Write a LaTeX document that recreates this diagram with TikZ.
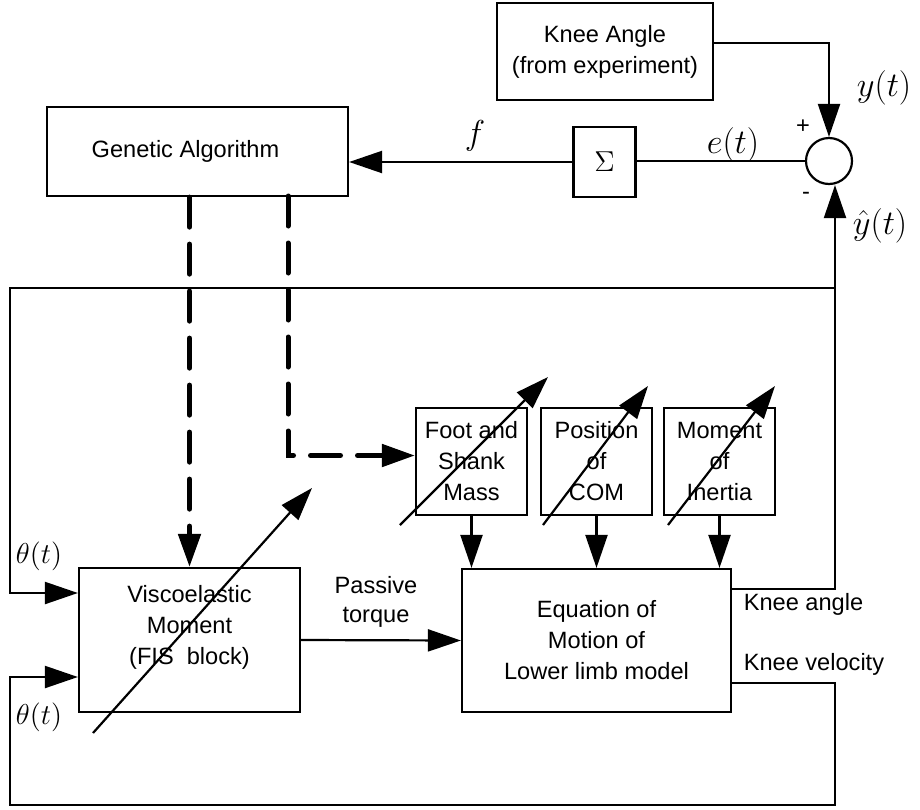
\documentclass[tikz,border=0pt]{standalone}
\usepackage{fontspec}
\setmainfont{Liberation Sans}
\usetikzlibrary{arrows.meta}

\begin{document}
\begin{tikzpicture}[x=0.5pt,y=-0.5pt,line width=1.1pt,
  >={Triangle[length=16.5pt,width=11pt]},
  block/.style={draw,rectangle,align=center,inner sep=0pt,font=\fontsize{11.8}{15.5}\selectfont},
  parbox/.style={block,minimum width=55.5pt,minimum height=53.5pt},
  gadash/.style={line width=2.5pt,dash pattern=on 15pt off 8.5pt,line cap=round},
  lbl/.style={font=\fontsize{11.8}{14.5}\selectfont},
  mlbl/.style={font=\fontsize{18.5}{20}\selectfont}]
\useasboundingbox (0,0) rectangle (920,809);

\node[block,minimum width=108pt,minimum height=48.5pt] (knee) at (605,51.5) {Knee Angle\\(from experiment)};
\node[block,minimum width=150.5pt,minimum height=44.5pt] (ga) at (197.5,151.5) {Genetic Algorithm\hspace*{12pt}};
\node[block,minimum width=31pt,minimum height=35pt] (sigma) at (604.5,162) {\Large$\Sigma$};
\node[circle,draw,minimum size=23pt,inner sep=0pt] (sum) at (829,161) {};
\node[block,minimum width=110.5pt,minimum height=72pt] (visco) at (189.5,640) {Viscoelastic\\Moment\\(FIS\ \ block)\\\mbox{}};
\node[block,minimum width=134.5pt,minimum height=71.5pt] (eq) at (596.5,640.5) {Equation of\\Motion of\\Lower limb model};
\node[parbox] (foot) at (471.5,461.5) {Foot and\\Shank\\Mass};
\node[parbox] (pos) at (596.5,461.5) {Position\\of\\COM};
\node[parbox] (mom) at (719.5,461.5) {Moment\\of\\Inertia};

% adjustable blocks
\draw[->] (93,733) -- (312,488);
\draw[->] (400,525) -- (548,377);
\draw[->] (543,525) -- (648,386);
\draw[->] (668,525) -- (775,386);

% error path
\draw[->] ([yshift=4.25pt]knee.east) -| (sum.north);
\draw (sum.west) -- (sum.west -| sigma.east);
\draw[->] (sigma.west) -- (sigma.west -| ga.east);

% GA tuning
\coordinate (gb) at (288,196);
\draw[gadash,->] (visco.north |- ga.south) -- (visco.north);
\draw[gadash,->] (gb) |- ([yshift=3pt]foot.west);

% feedback
\coordinate (fbtop) at (835,288);
\coordinate (fbl) at (10,288);
\coordinate (br) at (835,805);
\coordinate (bl) at (10,805);
\draw[->] ([yshift=25.75pt]eq.east) -| ([xshift=3pt]sum.south);
\draw[->] (fbtop) -- (fbl) |- ([yshift=23.5pt]visco.west);
\draw[->] ([yshift=-21.25pt]eq.east) -| (br) -- (bl) |- ([yshift=-18.5pt]visco.west);

\draw[->] (visco.east) -- (eq.west);
\foreach \p in {foot,pos,mom}
  \draw[->] (\p.south) -- (\p.south |- eq.north);

% labels
\node[mlbl] (flbl) at (475,136) {$f$};
\node[mlbl] (elbl) at (733,145) {$e(t)$};
\node[mlbl] (ylbl) at (884,88) {$y(t)$};
\node[mlbl] (yhlbl) at (880,226) {$\hat{y}(t)$};
\node[lbl] (plus) at (803,127) {+};
\node[lbl] (minus) at (806,196) {-};
\node[mlbl,font=\fontsize{15}{17}\selectfont] (th1) at (39,556) {$\theta(t)$};
\node[mlbl,font=\fontsize{15}{17}\selectfont] (th2) at (39,717) {$\theta(t)$};
\node[lbl,align=center] (ptq) at (376,602) {Passive\\torque};
\node[lbl,anchor=west] (kang) at (736,604) {Knee angle};
\node[lbl,anchor=west] (kvel) at (736,664) {Knee velocity};
\end{tikzpicture}
\end{document}
